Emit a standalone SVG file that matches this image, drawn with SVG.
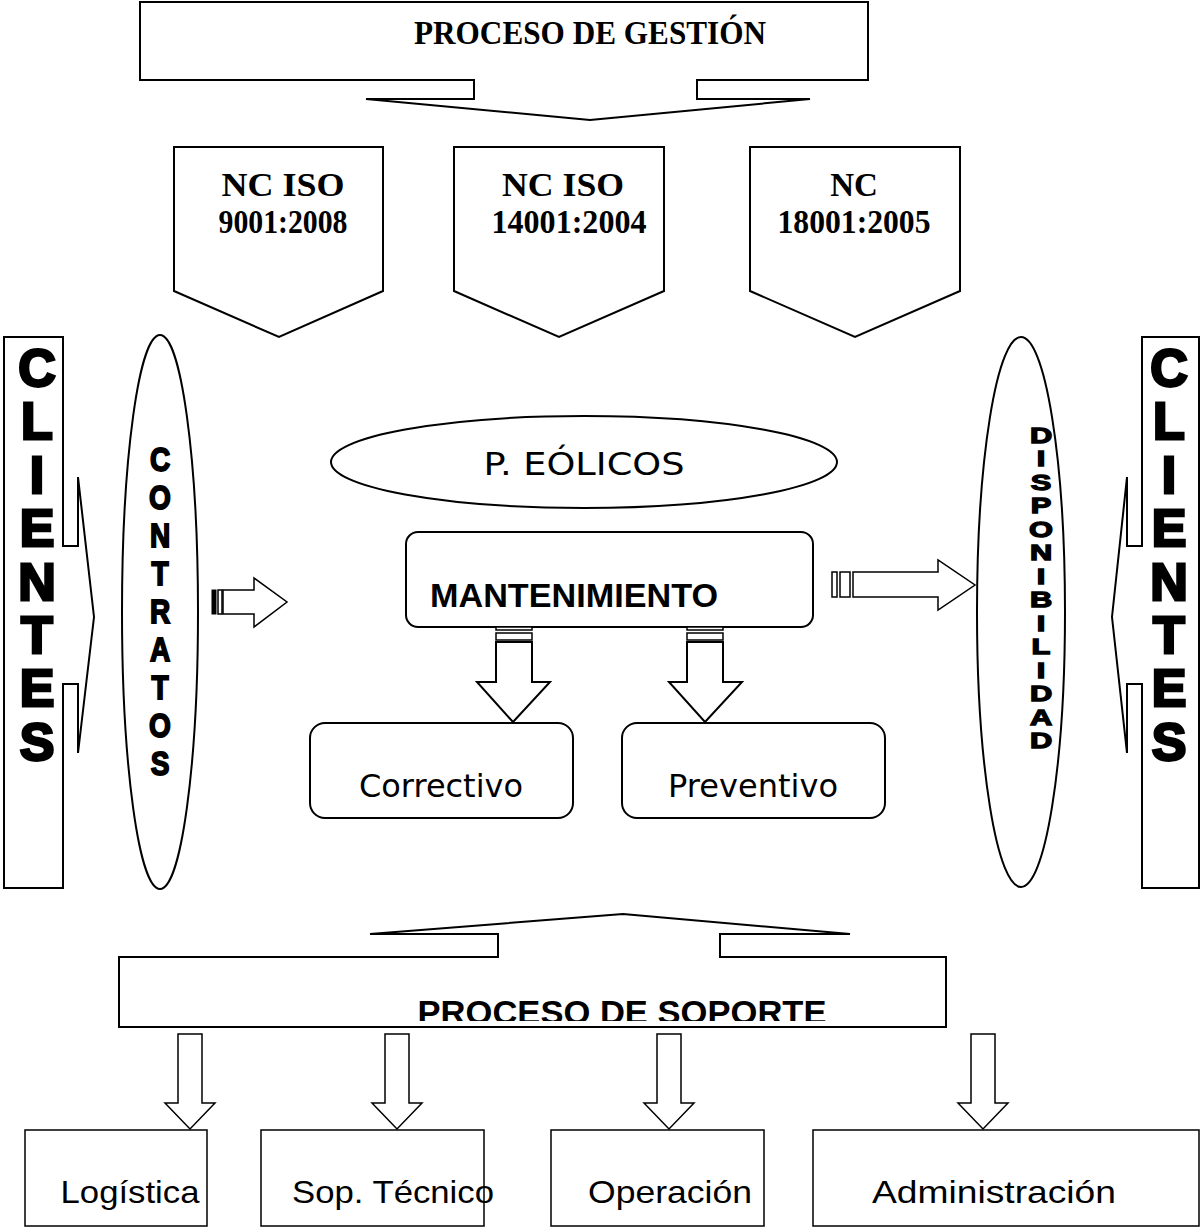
<svg xmlns="http://www.w3.org/2000/svg" width="1201" height="1228" viewBox="0 0 1201 1228">
  <defs>
    <style>
      .ln{fill:#fff;stroke:#000;stroke-width:2;stroke-linejoin:miter}
      .thin{fill:#fff;stroke:#000;stroke-width:1.5;stroke-linejoin:miter}
      .serif{font-family:"Liberation Serif","Times New Roman",serif;font-weight:bold;font-size:33px;text-anchor:middle;fill:#000}
      .sans{font-family:"Liberation Sans",Arial,sans-serif;fill:#000}
      .tah{font-family:"DejaVu Sans",Verdana,sans-serif;fill:#000;text-anchor:middle}
      .heavy{font-family:"Liberation Sans",Arial,sans-serif;font-weight:bold;text-anchor:middle;fill:#000;stroke:#000}
    </style>
    <clipPath id="soporteClip"><rect x="119" y="955" width="827" height="66"/></clipPath>
  </defs>
  <rect width="1201" height="1228" fill="#fff"/>

  <!-- management process callout -->
  <g id="proceso-gestion">
    <path class="ln" d="M140,2 H868 V80 H697 V99 H810 L590,120 L366,99 H474 V80 H140 Z"/>
    <text class="serif" x="590" y="44" textLength="352" lengthAdjust="spacingAndGlyphs">PROCESO DE GESTIÓN</text>
  </g>

  <!-- standards -->
  <g id="nc-iso-9001">
    <path class="ln" d="M174,147 H383 V291 L279,337 L174,291 Z"/>
    <text class="serif" x="283" y="196" textLength="123" lengthAdjust="spacingAndGlyphs">NC ISO</text>
    <text class="serif" x="283" y="233" textLength="129" lengthAdjust="spacingAndGlyphs">9001:2008</text>
  </g>
  <g id="nc-iso-14001">
    <path class="ln" d="M454,147 H664 V291 L559,337 L454,291 Z"/>
    <text class="serif" x="563" y="196" textLength="122" lengthAdjust="spacingAndGlyphs">NC ISO</text>
    <text class="serif" x="569" y="233" textLength="155" lengthAdjust="spacingAndGlyphs">14001:2004</text>
  </g>
  <g id="nc-18001">
    <path class="ln" d="M750,147 H960 V291 L855,337 L750,291 Z"/>
    <text class="serif" x="854" y="196">NC</text>
    <text class="serif" x="854" y="233" textLength="153" lengthAdjust="spacingAndGlyphs">18001:2005</text>
  </g>

  <!-- clients, left -->
  <g id="clientes-izq">
    <path class="ln" d="M63,546 H78 V477 L94,617 L78,753 V684 H63 V888 H4 V337 H63 Z"/>
    <text class="heavy" font-size="52" stroke-width="2.8">
      <tspan x="37" y="386">C</tspan><tspan x="37" y="439">L</tspan><tspan x="37" y="493">I</tspan><tspan x="37" y="546">E</tspan><tspan x="37" y="600">N</tspan><tspan x="37" y="653">T</tspan><tspan x="37" y="706">E</tspan><tspan x="37" y="760">S</tspan>
    </text>
  </g>

  <!-- contracts -->
  <g id="contratos">
    <ellipse class="ln" cx="160" cy="612" rx="38" ry="277"/>
    <g transform="translate(160,0) scale(0.85,1)">
      <text class="heavy" font-size="33" stroke-width="1.8">
        <tspan x="0" y="471">C</tspan><tspan x="0" y="509">O</tspan><tspan x="0" y="547">N</tspan><tspan x="0" y="585">T</tspan><tspan x="0" y="623">R</tspan><tspan x="0" y="661">A</tspan><tspan x="0" y="699">T</tspan><tspan x="0" y="737">O</tspan><tspan x="0" y="775">S</tspan>
      </text>
    </g>
  </g>

  <!-- wind farms -->
  <g id="parques-eolicos">
    <ellipse class="ln" cx="584" cy="462" rx="253" ry="46"/>
    <text class="tah" x="584" y="475" font-size="32" textLength="201" lengthAdjust="spacingAndGlyphs">P. EÓLICOS</text>
  </g>

  <!-- maintenance -->
  <g id="mantenimiento">
    <rect class="ln" x="406" y="532" width="407" height="95" rx="12"/>
    <text class="sans" x="430" y="607" font-size="34" font-weight="bold" textLength="288" lengthAdjust="spacingAndGlyphs">MANTENIMIENTO</text>
  </g>
  <g id="correctivo">
    <rect class="ln" x="310" y="723" width="263" height="95" rx="15"/>
    <text class="tah" x="441" y="797" font-size="32" textLength="164" lengthAdjust="spacingAndGlyphs">Correctivo</text>
  </g>
  <g id="preventivo">
    <rect class="ln" x="622" y="723" width="263" height="95" rx="15"/>
    <text class="tah" x="753" y="797" font-size="32" textLength="170" lengthAdjust="spacingAndGlyphs">Preventivo</text>
  </g>

  <!-- availability -->
  <g id="disponibilidad">
    <ellipse class="ln" cx="1021" cy="612" rx="44" ry="275"/>
    <g transform="translate(1041,0) scale(1.4,1)">
      <text class="heavy" font-size="22" stroke-width="1.3">
        <tspan x="0" y="443">D</tspan><tspan x="0" y="466.5">I</tspan><tspan x="0" y="490">S</tspan><tspan x="0" y="513.5">P</tspan><tspan x="0" y="537">O</tspan><tspan x="0" y="560.5">N</tspan><tspan x="0" y="584">I</tspan><tspan x="0" y="607.5">B</tspan><tspan x="0" y="631">I</tspan><tspan x="0" y="654.5">L</tspan><tspan x="0" y="678">I</tspan><tspan x="0" y="701.5">D</tspan><tspan x="0" y="725">A</tspan><tspan x="0" y="748.5">D</tspan>
      </text>
    </g>
  </g>

  <!-- clients, right -->
  <g id="clientes-der">
    <path class="ln" d="M1142,546 H1127 V477 L1112,617 L1127,753 V684 H1142 V888 H1199 V337 H1142 Z"/>
    <text class="heavy" font-size="52" stroke-width="2.8">
      <tspan x="1169" y="386">C</tspan><tspan x="1169" y="439">L</tspan><tspan x="1169" y="493">I</tspan><tspan x="1169" y="546">E</tspan><tspan x="1169" y="600">N</tspan><tspan x="1169" y="653">T</tspan><tspan x="1169" y="706">E</tspan><tspan x="1169" y="760">S</tspan>
    </text>
  </g>

  <!-- support process callout -->
  <g id="proceso-soporte">
    <path class="ln" d="M119,957 H498 V934 H370 L623,914 L850,934 H720 V957 H946 V1027 H119 Z"/>
    <text class="sans" x="622" y="1024" font-size="33" font-weight="bold" text-anchor="middle" textLength="409" lengthAdjust="spacingAndGlyphs" clip-path="url(#soporteClip)">PROCESO DE SOPORTE</text>
  </g>

  <!-- support areas -->
  <g id="logistica">
    <rect class="thin" x="25" y="1130" width="182" height="96"/>
    <text class="sans" x="130" y="1203" font-size="32" text-anchor="middle" textLength="139" lengthAdjust="spacingAndGlyphs">Logística</text>
  </g>
  <g id="soporte-tecnico">
    <rect class="thin" x="261" y="1130" width="223" height="96"/>
    <text class="sans" x="393" y="1203" font-size="32" text-anchor="middle" textLength="202" lengthAdjust="spacingAndGlyphs">Sop. Técnico</text>
  </g>
  <g id="operacion">
    <rect class="thin" x="551" y="1130" width="213" height="96"/>
    <text class="sans" x="670" y="1203" font-size="32" text-anchor="middle" textLength="164" lengthAdjust="spacingAndGlyphs">Operación</text>
  </g>
  <g id="administracion">
    <rect class="thin" x="813" y="1130" width="386" height="96"/>
    <text class="sans" x="994" y="1203" font-size="32" text-anchor="middle" textLength="244" lengthAdjust="spacingAndGlyphs">Administración</text>
  </g>

  <!-- connectors: block arrows -->
  <g id="connectors">
    <!-- contracts to maintenance -->
    <rect x="212" y="590" width="4" height="24" fill="#000" stroke="#000" stroke-width="1"/>
    <rect class="thin" x="218" y="590" width="4" height="24"/>
    <path class="thin" d="M223,590 H254 V578 L287,602 L254,627 V614 H223 Z"/>
    <!-- maintenance to availability -->
    <rect class="thin" x="832" y="572" width="5" height="25"/>
    <rect class="thin" x="840" y="572" width="10" height="25"/>
    <path class="thin" d="M853,572 H938 V560 L975,585 L938,610 V597 H853 Z"/>
    <!-- maintenance to corrective / preventive -->
    <rect class="thin" x="496" y="627" width="36" height="3"/>
    <rect class="thin" x="496" y="633" width="36" height="7"/>
    <path class="ln" d="M496,642 V682 H477 L513,722 L550,682 H532 V642 Z"/>
    <rect class="thin" x="687" y="627" width="36" height="3"/>
    <rect class="thin" x="687" y="633" width="36" height="7"/>
    <path class="ln" d="M687,642 V682 H669 L705,722 L742,682 H723 V642 Z"/>
    <!-- support process to areas -->
    <path class="thin" d="M178,1034 V1103 H165 L190,1129 L215,1103 H202 V1034 Z"/>
    <path class="thin" d="M385,1034 V1103 H372 L397,1129 L422,1103 H409 V1034 Z"/>
    <path class="thin" d="M657,1034 V1103 H644 L669,1129 L694,1103 H681 V1034 Z"/>
    <path class="thin" d="M971,1034 V1103 H958 L983,1129 L1008,1103 H995 V1034 Z"/>
  </g>
</svg>
